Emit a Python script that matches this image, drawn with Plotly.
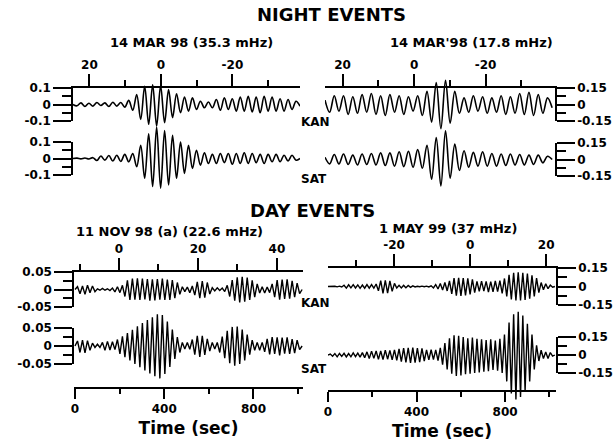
import numpy as np
import plotly.graph_objects as go

W, H = 613, 446
FONT = "DejaVu Sans"
INK = "black"

# ---------------------------------------------------------------------------
# Waveforms: one signed extremum per half-cycle, evenly spaced along the trace.
# Night events are plotted against the top axis units, day events against time (s).
# ---------------------------------------------------------------------------
night_left_kan = [
    0.0, -0.008, 0.010, -0.012, 0.008, -0.010, 0.012, -0.006, 0.010, -0.012,
    0.014, -0.010, 0.012, -0.016, 0.025, -0.035,
    0.06, -0.09, 0.11, -0.12, 0.12, -0.13, 0.115, -0.11, 0.09, -0.08,
    0.065, -0.05, 0.045, -0.04, 0.04, -0.03,
    0.02, -0.02, 0.015, -0.02,
    0.03, -0.035, 0.04, -0.03, 0.035, -0.04, 0.045, -0.04, 0.05, -0.045,
    0.045, -0.05, 0.05, -0.04, 0.045, -0.04, 0.035, -0.04, 0.03, -0.03,
    0.02, -0.01,
]
night_left_sat = [
    0.0, 0.002, -0.002, 0.003, -0.003, 0.005,
    -0.012, 0.015, -0.010, 0.018, -0.015, 0.020, -0.018, 0.025, -0.020, 0.030,
    -0.05, 0.08, -0.12, 0.15, -0.17, 0.19, -0.18, 0.17, -0.16, 0.14,
    -0.12, 0.10, -0.09, 0.08, -0.06,
    0.05, -0.04, 0.035, -0.03, 0.025, -0.03, 0.03, -0.025, 0.03, -0.035,
    0.03, -0.03, 0.035, -0.03, 0.03, -0.025, 0.025, -0.03, 0.025, -0.02,
    0.025, -0.02, 0.02, -0.015, 0.02, -0.01, 0.0,
]
night_right_kan = [
    0.04, -0.07, 0.08, -0.06, 0.08, -0.09, 0.07, -0.08, 0.09, -0.07,
    0.10, -0.09, 0.08, -0.10, 0.09, -0.07, 0.08, -0.09, 0.07, -0.06,
    0.08, -0.10, 0.12,
    -0.16, 0.20, -0.22, 0.22, -0.17, 0.12,
    -0.08, 0.06, -0.07, 0.08, -0.06, 0.07, -0.08, 0.06, -0.07, 0.08,
    -0.09, 0.07, -0.08, 0.10, -0.09, 0.11, -0.10, 0.09, -0.08, 0.06, -0.03,
]
night_right_sat = [
    0.02, -0.04, 0.045, -0.04, 0.05, -0.045, 0.04, -0.05, 0.05, -0.045,
    0.055, -0.05, 0.06, -0.055, 0.06, -0.06, 0.07, -0.065, 0.075, -0.07,
    0.09, -0.08, 0.13,
    -0.18, 0.20, -0.24, 0.26, -0.17, 0.14,
    -0.10, 0.08, -0.07, 0.065, -0.06, 0.07, -0.06, 0.055, -0.06, 0.05,
    -0.055, 0.05, -0.05, 0.045, -0.05, 0.04, -0.045, 0.04, -0.03, 0.03, 0.0,
]
day_left_kan = [
    # 0-97 s
    0.0, 0.008, -0.012, 0.010, -0.014, 0.012, -0.009, 0.010, -0.006,
    # 97-172 s
    0.002, -0.002, 0.003, -0.002, 0.002, -0.003, 0.004,
    # 172-217 s
    -0.007, 0.008, -0.009, 0.012,
    # 217-471 s
    -0.020, 0.026, -0.030, 0.031, -0.029, 0.032, -0.030, 0.031, -0.028, 0.030,
    -0.032, 0.029, -0.031, 0.030, -0.029, 0.031, -0.030, 0.028, -0.030, 0.027,
    -0.025, 0.020, -0.014,
    # 471-531 s
    0.008, -0.006, 0.007, -0.009, 0.010,
    # 531-605 s
    -0.016, 0.022, -0.025, 0.024, -0.023, 0.020, -0.013,
    # 605-680 s
    0.005, -0.004, 0.005, -0.003, 0.004, -0.006,
    # 680-830 s
    0.012, -0.020, 0.027, -0.032, 0.035, -0.037, 0.036, -0.035, 0.034, -0.030,
    0.026, -0.022, 0.016, -0.010,
    # 830-874 s
    0.008, -0.010, 0.007, -0.009,
    # 874-1018 s
    0.016, -0.022, 0.027, -0.029, 0.028, -0.027, 0.029, -0.026, 0.025, -0.022,
    0.018, -0.012, 0.0,
]
day_left_sat = [
    # 0-82 s
    0.0, 0.014, -0.018, 0.016, -0.019, 0.015, -0.012, 0.008,
    # 82-112 s
    -0.004, 0.005, -0.004,
    # 112-187 s
    0.010, -0.012, 0.013, -0.011, 0.012, -0.010,
    # 187-381 s
    0.018, -0.022, 0.027, -0.031, 0.036, -0.040, 0.045, -0.050, 0.055, -0.059,
    0.064, -0.068, 0.072, -0.076, 0.080, -0.084, 0.088, -0.090,
    # 381-471 s
    0.086, -0.078, 0.068, -0.058, 0.046, -0.036, 0.025, -0.018,
    # 471-523 s
    0.010, -0.008, 0.010, -0.009,
    # 523-613 s
    0.018, -0.024, 0.028, -0.030, 0.028, -0.025, 0.020, -0.014,
    # 613-643 s
    0.010, -0.008, 0.010,
    # 643-800 s
    -0.018, 0.026, -0.034, 0.042, -0.048, 0.053, -0.055, 0.054, -0.050, 0.046,
    -0.040, 0.032, -0.024, 0.016,
    # 800-845 s
    -0.012, 0.010, -0.012, 0.010,
    # 845-1018 s
    -0.016, 0.020, -0.023, 0.025, -0.022, 0.024, -0.026, 0.023, -0.021, 0.024,
    -0.022, 0.019, -0.020, 0.016, -0.010, 0.0,
]
day_right_kan = [
    # 0-68 s
    0.0, 0.002, -0.002, 0.002, -0.003, 0.003, -0.004,
    # 68-227 s
    0.010, -0.013, 0.014, -0.011, 0.015, -0.012, 0.013, -0.015, 0.012, -0.014,
    0.016, -0.013, 0.015, -0.014, 0.020,
    # 227-303 s
    -0.035, 0.048, -0.056, 0.050, -0.054, 0.046, -0.040, 0.025,
    # 303-401 s
    -0.012, 0.010, -0.012, 0.009, -0.010, 0.008, -0.007, 0.005, -0.004,
    # 401-476 s
    0.002, -0.002, 0.003, -0.002, 0.003, -0.004, 0.006,
    # 476-551 s
    -0.012, 0.016, -0.020, 0.024, -0.028, 0.032, -0.036, 0.045,
    # 551-672 s
    -0.060, 0.068, -0.074, 0.070, -0.076, 0.068, -0.072, 0.066, -0.064, 0.058,
    -0.050,
    # 672-807 s
    0.042, -0.040, 0.044, -0.038, 0.042, -0.045, 0.040, -0.044, 0.046, -0.042,
    0.048, -0.055, 0.065,
    # 807-958 s
    -0.080, 0.095, -0.105, 0.112, -0.114, 0.116, -0.113, 0.112, -0.108, 0.104,
    -0.098, 0.090, -0.080, 0.068, -0.050,
    # 958-1025 s
    0.032, -0.026, 0.022, -0.018, 0.012, -0.006, 0.0,
]
day_right_sat = [
    # 0-158 s
    0.0, 0.008, -0.010, 0.012, -0.015, 0.013, -0.011, 0.014, -0.016, 0.012,
    -0.015, 0.017, -0.014, 0.016, -0.018, 0.020,
    # 158-324 s
    -0.022, 0.026, -0.030, 0.032, -0.028, 0.034, -0.036, 0.033, -0.038, 0.040,
    -0.035, 0.038, -0.040, 0.042, -0.045, 0.050,
    # 324-444 s
    -0.055, 0.058, -0.062, 0.060, -0.066, 0.062, -0.064, 0.058, -0.060, 0.055,
    -0.050,
    # 444-520 s
    0.042, -0.040, 0.044, -0.038, 0.042, -0.046, 0.060, -0.080,
    # 520-807 s
    0.100, -0.120, 0.140, -0.155, 0.165, -0.175, 0.160, -0.170, 0.150, -0.160,
    0.140, -0.155, 0.145, -0.150, 0.135, -0.145, 0.130, -0.140, 0.125, -0.135,
    0.130, -0.125, 0.120, -0.130, 0.135, -0.150, 0.170,
    # 807-958 s
    -0.220, 0.270, -0.320, 0.340, -0.370, 0.360, -0.350, 0.330, -0.300, 0.260,
    -0.220, 0.170, -0.120, 0.080, -0.050,
    # 958-1025 s
    0.040, -0.030, 0.025, -0.030, 0.020, -0.010, 0.0,
]

# Tick values for the decoration axes
night_top_ticks = [20, 0, -20]
night_top_minor = [10, -10, -30]
day_left_top_ticks = [0, 20, 40]
day_left_top_minor = [-10, 10, 30]
day_right_top_ticks = [-20, 0, 20]
day_right_top_minor = [-30, -10, 10]
time_ticks = [0, 400, 800]
time_minor = [200, 600, 1000]
stations = ["KAN", "SAT"]


def fx(p):
    return p / W


def fy(p):
    return 1 - p / H


axes = {}
count = {"x": 0, "y": 0}


def new_id(letter):
    count[letter] += 1
    n = count[letter]
    return letter + ("" if n == 1 else str(n))


def put(aid, **kw):
    axes[aid[0] + "axis" + aid[1:]] = kw


def label(v):
    return f"{v:g}"


tick_font = dict(family=FONT, size=12, color=INK, weight="bold")
deco = dict(showgrid=False, zeroline=False, showline=True, linecolor=INK,
            linewidth=1.5, ticks="outside", tickcolor=INK, tickwidth=1.5,
            tickfont=tick_font, fixedrange=True, automargin=False,
            tickmode="array")


def minor(vals, length):
    return dict(tickmode="array", tickvals=vals, ticks="outside",
                ticklen=length, tickwidth=1.5, tickcolor=INK, showgrid=False)


panels = [
    dict(x_px=(73, 300), top_range=(24.6, -38.9), top_ticks=night_top_ticks,
         top_minor=night_top_minor, data_range=(24.6, -38.9),
         span=(24.6, -38.9), side="left", spline=True, width=1.6,
         time_line=None,
         rows=[dict(vals=night_left_kan, frame=(88, 121), lim=0.1, half=40),
               dict(vals=night_left_sat, frame=(142, 175), lim=0.1, half=40)]),
    dict(x_px=(325, 555), top_range=(24.9, -39.4), top_ticks=night_top_ticks,
         top_minor=night_top_minor, data_range=(24.9, -39.4),
         span=(24.9, -38.6), side="right", spline=True, width=1.6,
         time_line=None,
         rows=[dict(vals=night_right_kan, frame=(88, 121), lim=0.15, half=40),
               dict(vals=night_right_sat, frame=(143, 176), lim=0.15, half=40)]),
    dict(x_px=(74, 303), top_range=(-11.4, 46.6), top_ticks=day_left_top_ticks,
         top_minor=day_left_top_minor, data_range=(-4.5, 1022),
         span=(0, 1018), side="left", spline=False, width=1.4,
         time_line=387,
         rows=[dict(vals=day_left_kan, frame=(272, 307), lim=0.05, half=30),
               dict(vals=day_left_sat, frame=(328, 364), lim=0.05, half=45)]),
    dict(x_px=(328, 556), top_range=(-37.4, 22.6), top_ticks=day_right_top_ticks,
         top_minor=day_right_top_minor, data_range=(0, 1030),
         span=(0, 1025), side="right", spline=False, width=1.4,
         time_line=390,
         rows=[dict(vals=day_right_kan, frame=(268, 305), lim=0.15, half=30),
               dict(vals=day_right_sat, frame=(337, 373), lim=0.15, half=50)]),
]

fig = go.Figure()

for p in panels:
    xdom = [fx(p["x_px"][0]), fx(p["x_px"][1])]
    top_x, data_x = new_id("x"), new_id("x")
    frame_ids = [new_id("y") for _ in p["rows"]]
    data_ids = [new_id("y") for _ in p["rows"]]

    put(top_x, domain=xdom, range=list(p["top_range"]), side="top",
        anchor=frame_ids[0], tickvals=p["top_ticks"],
        ticktext=[label(v) for v in p["top_ticks"]], ticklen=12,
        minor=minor(p["top_minor"], 6), **deco)
    put(data_x, domain=xdom, range=list(p["data_range"]), visible=False,
        fixedrange=True)

    for row, fid, did in zip(p["rows"], frame_ids, data_ids):
        top, bot = row["frame"]
        lim = row["lim"]
        zero = (top + bot) / 2
        px_per_unit = (bot - top) / (2 * lim)
        put(fid, domain=[fy(bot), fy(top)], range=[-lim, lim], side=p["side"],
            anchor=top_x, tickvals=[-lim, 0, lim],
            ticktext=[label(-lim), "0", label(lim)], ticklen=18,
            minor=minor([-lim / 2, lim / 2], 9), **deco)
        h = row["half"]
        put(did, domain=[fy(zero + h), fy(zero - h)],
            range=[-h / px_per_unit, h / px_per_unit], visible=False,
            fixedrange=True)
        fig.add_trace(go.Scatter(x=[None], y=[None], xaxis=top_x, yaxis=fid,
                                 showlegend=False, hoverinfo="skip"))
        xs = np.linspace(p["span"][0], p["span"][1], len(row["vals"]))
        fig.add_trace(go.Scatter(
            x=xs, y=row["vals"], mode="lines", xaxis=data_x, yaxis=did,
            line=dict(color=INK, width=p["width"],
                      shape="spline" if p["spline"] else "linear"),
            showlegend=False, hoverinfo="skip"))

    if p["time_line"] is not None:
        time_x, helper_y = new_id("x"), new_id("y")
        ly = p["time_line"]
        put(helper_y, domain=[fy(ly), fy(ly - 5)], range=[0, 1],
            visible=False, fixedrange=True)
        put(time_x, domain=xdom, range=list(p["data_range"]), side="bottom",
            anchor=helper_y, tickvals=time_ticks,
            ticktext=[label(v) for v in time_ticks], ticklen=10,
            minor=minor(time_minor, 5),
            title=dict(text="Time (sec)", standoff=7,
                       font=dict(family=FONT, size=17, color=INK,
                                 weight="bold")),
            **deco)
        fig.add_trace(go.Scatter(x=[None], y=[None], xaxis=time_x,
                                 yaxis=helper_y, showlegend=False,
                                 hoverinfo="skip"))


def note(text, x, y, size, anchor="center"):
    return dict(text=text, x=fx(x), y=fy(y), xref="paper", yref="paper",
                xanchor=anchor, yanchor="middle", showarrow=False,
                font=dict(family=FONT, size=size, color=INK, weight="bold"))


annotations = [
    note("NIGHT EVENTS", 331, 15, 18),
    note("14 MAR 98 (35.3 mHz)", 191, 42, 13),
    note("14 MAR'98 (17.8 mHz)", 471, 42, 13),
    note(stations[0], 299, 122, 12, "left"),
    note(stations[1], 299, 179, 12, "left"),
    note("DAY EVENTS", 312, 211, 18),
    note("11 NOV 98 (a) (22.6 mHz)", 169, 232, 13),
    note("1 MAY 99 (37 mHz)", 448, 228, 13),
    note(stations[0], 299, 303, 12, "left"),
    note(stations[1], 299, 369, 12, "left"),
]

fig.update_layout(
    template="none",
    width=W, height=H,
    margin=dict(l=0, r=0, t=0, b=0),
    paper_bgcolor="white", plot_bgcolor="rgba(0,0,0,0)",
    showlegend=False,
    font=dict(family=FONT, color=INK),
    annotations=annotations,
    **axes,
)

fig.write_html("out.html", config={"displayModeBar": False})
